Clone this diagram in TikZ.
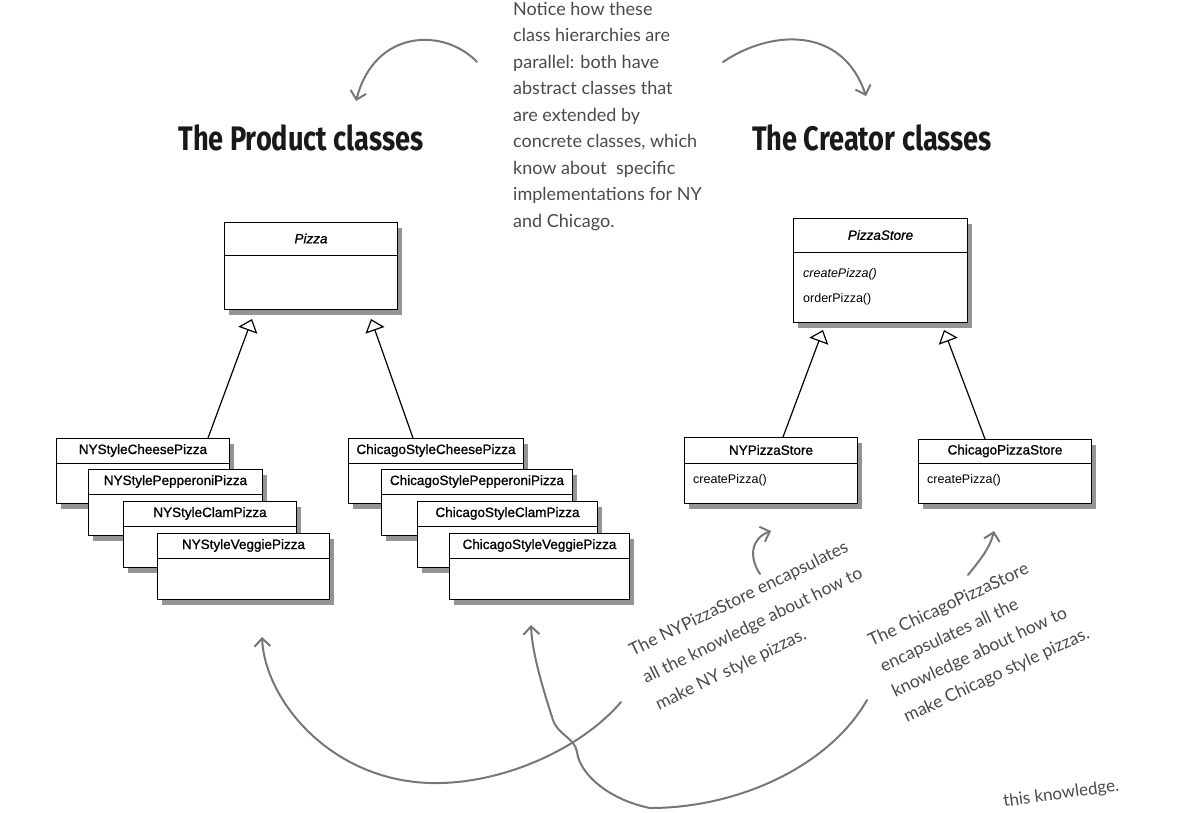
\documentclass[tikz,border=0pt]{standalone}
\usepackage{fontspec}
\setmainfont{Liberation Sans}
\newfontfamily\handfont{Lato}
\newfontfamily\titlefont[FakeStretch=0.8]{Fira Sans}
\usetikzlibrary{arrows.meta,shadows,calc}
\definecolor{pencil}{HTML}{4A4A4A}
\definecolor{penline}{HTML}{777777}
\tikzset{
  classbox/.style={draw, line width=1pt, fill=white, anchor=north west,
    minimum width=173pt, minimum height=66pt, inner sep=0pt,
    drop shadow={shadow xshift=4pt, shadow yshift=-5pt, fill=black!60, opacity=0.7}},
  classname/.style={font=\fontsize{13.5}{16}\selectfont\addfontfeature{FakeBold=1}, inner sep=0pt},
  method/.style={font=\fontsize{12.5}{15}\selectfont, inner sep=0pt, anchor=west},
  annot/.style={font=\handfont\fontsize{18}{26.5}\selectfont, text=pencil, inner sep=0pt, align=left},
  heading/.style={font=\titlefont\bfseries\fontsize{34}{36}\selectfont, text=black!90},
}
% a class box: name, corner, width, height, header height, title
\newcommand{\umlclass}[6]{%
  \node[classbox, minimum width=#3, minimum height=#4] (#1) at (#2) {};
  \draw[line width=1pt] ([yshift=-#5]#1.north west) -- ([yshift=-#5]#1.north east);
  \node[classname] (#1-title) at ([yshift=-#5/2]#1.north) {#6};
}

\begin{document}
\begin{tikzpicture}[
    x=1pt, y=-1pt,
    inherit/.style={line width=1.2pt, -{Triangle[open,length=12pt,width=20pt,line width=1.2pt]}},
    hand/.style={draw=penline, line width=2pt, line cap=round, -{Straight Barb[length=8pt,width=16pt]}}
    ]
    \useasboundingbox (0,0) rectangle (1182,812);

    % headings
    \node[heading] (prodhead) at (301,138) {The Product classes};
    \node[heading] (creahead) at (872,138) {The Creator classes};

    % product side
    \umlclass{pizza}{224,222}{173pt}{87pt}{33pt}{\itshape Pizza}
    \umlclass{nycheese}{56,438}{173pt}{65pt}{25pt}{NYStyleCheesePizza}
    \umlclass{nypepperoni}{88,469}{174pt}{66pt}{25pt}{NYStylePepperoniPizza}
    \umlclass{nyclam}{123,501}{173pt}{66pt}{25pt}{NYStyleClamPizza}
    \umlclass{nyveggie}{157,533}{172pt}{66pt}{25pt}{NYStyleVeggiePizza}
    \umlclass{chcheese}{348,438}{175pt}{65pt}{25pt}{ChicagoStyleCheesePizza}
    \umlclass{chpepperoni}{381,469}{191pt}{66pt}{25pt}{ChicagoStylePepperoniPizza}
    \umlclass{chclam}{417,501}{180pt}{66pt}{25pt}{ChicagoStyleClamPizza}
    \umlclass{chveggie}{449,533}{180pt}{66pt}{25pt}{ChicagoStyleVeggiePizza}

    % creator side
    \umlclass{store}{793,218}{174pt}{104pt}{34pt}{\itshape PizzaStore}
    \node[method] (store-create) at (803,274) {\itshape createPizza()};
    \node[method] (store-order) at (803,299) {orderPizza()};
    \umlclass{nystore}{684,437}{173pt}{66pt}{26pt}{NYPizzaStore}
    \node[method] (nystore-create) at (693,480) {createPizza()};
    \umlclass{chstore}{918,439}{173pt}{64pt}{24pt}{ChicagoPizzaStore}
    \node[method] (chstore-create) at (927,480) {createPizza()};

    \draw[inherit] ([xshift=-22pt]nycheese.north east) -- ([xshift=28pt,yshift=-9pt]pizza.south west);
    \draw[inherit] ([xshift=65pt]chcheese.north west) -- ([xshift=-27pt,yshift=-9pt]pizza.south east);
    \draw[inherit] ([xshift=99pt]nystore.north west) -- ([xshift=30pt,yshift=-7pt]store.south west);
    \draw[inherit] ([xshift=67pt]chstore.north west) -- ([xshift=-24pt,yshift=-7pt]store.south east);

    % notes
    \node[annot, anchor=north west] (notice) at (513,2) {Notice how these\\
      class hierarchies are\\ parallel: both have\\ abstract classes that\\
      are extended by\\ concrete classes, which\\ know about \ specific\\
      implementations for NY\\ and Chicago.};
    \node[annot, rotate=26, anchor=north west, font=\handfont\fontsize{17.5}{30}\selectfont] (nynote) at (627,645)
      {The NYPizzaStore encapsulates\\ all the knowledge about how to\\ make NY style pizzas.};
    \node[annot, rotate=25, anchor=north west, font=\handfont\fontsize{17.5}{28}\selectfont] (chnote) at (866,635)
      {The ChicagoPizzaStore\\ encapsulates all the\\ knowledge about how to\\ make Chicago style pizzas.};
    \node[annot, rotate=8, anchor=base west, font=\handfont\fontsize{17}{20}\selectfont] (tail) at (1004,807) {this knowledge.};

    \coordinate (toptl) at (477,62);
    \coordinate (toptr) at (723,62);
    \coordinate (prodtip) at (356,101);
    \coordinate (creatip) at (866,96);
    \coordinate (nytail) at (760,574);
    \coordinate (chtail) at (968,575);
    \coordinate (nybig) at (621,702);
    \coordinate (chbig) at (867,700);
    \coordinate (nytip) at (262,637);
    \coordinate (chtip) at (531,625);

    \draw[hand] (toptl) .. controls (445,28) and (375,28) .. (prodtip);
    \draw[hand] (toptr) .. controls (770,30) and (842,25) .. (creatip);
    \draw[hand] (nytail) .. controls (748,556) and (752,538) .. ([yshift=-27pt]nystore.south);
    \draw[hand] (chtail) .. controls (980,560) and (990,548) .. ([xshift=-11pt,yshift=-27pt]chstore.south);
    \draw[hand] (nybig) .. controls (580,750) and (500,785) .. (430,783)
      .. controls (330,780) and (265,700) .. (nytip);
    \draw[hand] (chbig) .. controls (830,765) and (740,808) .. (650,808)
      .. controls (610,800) and (580,775) .. (577,752)
      .. controls (575,738) and (558,735) .. (553,720)
      .. controls (540,680) and (532,650) .. (chtip);
  \end{tikzpicture}
\end{document}
